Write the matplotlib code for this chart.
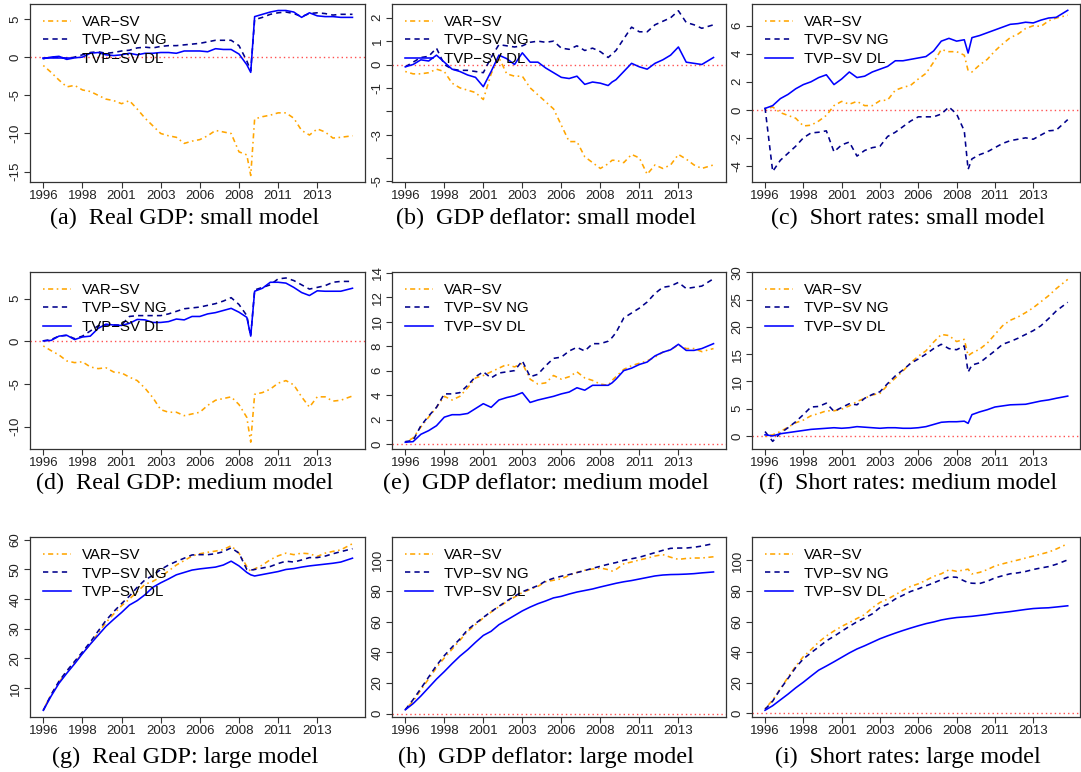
import matplotlib
matplotlib.use("Agg")
import matplotlib.pyplot as plt
import numpy as np

plt.rcParams['axes.unicode_minus'] = False

# ---------------- data ----------------
# quarter index since 1996Q1 (every 2 quarters, plus 2009Q2 and last quarter)
quarter_idx = list(range(0, 53, 2)) + [53] + list(range(54, 77, 2)) + [79]

year_tick_pos = [0, 10, 20, 30, 40, 50, 60, 70]
year_tick_labels = ["1996", "1998", "2001", "2003", "2006", "2008", "2011", "2013"]

series_labels = ["VAR\u2212SV", "TVP\u2212SV NG", "TVP\u2212SV DL"]

# (a) Real GDP: small model
var_sv_a = [-1.1, -2.0, -3.0, -3.9, -3.7, -4.3, -4.5, -5.0, -5.5, -5.7, -6.1, -5.7, -6.8, -8.0, -9.0,
            -10.0, -10.3, -10.5, -11.3, -11.0, -10.8, -10.3, -9.6, -9.8, -10.0, -12.4, -12.8, -15.5,
            -8.1, -7.8, -7.6, -7.3, -7.3, -8.0, -9.6, -10.2, -9.4, -9.8, -10.6, -10.5, -10.3]
tvp_ng_a = [-0.2, 0.0, 0.0, -0.2, 0.0, 0.3, 0.6, 0.7, 0.5, 0.6, 0.8, 0.9, 1.2, 1.3, 1.2, 1.4, 1.5, 1.5,
            1.6, 1.7, 1.8, 2.0, 2.2, 2.2, 2.2, 1.5, -0.5, -1.8,
            4.9, 5.2, 5.6, 5.8, 5.9, 5.7, 5.3, 5.7, 5.8, 5.7, 5.5, 5.6, 5.6]
tvp_dl_a = [-0.2, 0.0, 0.1, -0.3, -0.1, 0.0, 0.5, 0.6, 0.3, 0.2, 0.3, 0.5, 0.3, 0.5, 0.5, 0.6, 0.6, 0.5,
            0.8, 0.8, 0.8, 0.7, 1.1, 1.0, 1.0, 0.4, -1.0, -2.0,
            5.3, 5.6, 5.9, 6.1, 6.1, 5.9, 5.2, 5.8, 5.4, 5.3, 5.3, 5.2, 5.2]

# (b) GDP deflator: small model
var_sv_b = [-0.3, -0.4, -0.4, -0.35, -0.2, -0.3, -0.8, -1.0, -1.1, -1.2, -1.5, -0.4, 0.3, -0.4, -0.5,
            -0.5, -1.0, -1.3, -1.6, -1.9, -2.6, -3.3, -3.3, -3.95, -4.2, -4.45, -4.25, -4.1,
            -4.1, -4.2, -3.85, -4.0, -4.7, -4.3, -4.45, -4.3, -3.85, -4.05, -4.3, -4.45, -4.3]
tvp_ng_b = [-0.1, 0.1, 0.3, 0.35, 0.7, 0.0, -0.2, -0.25, -0.25, -0.3, -0.35, 0.3, 0.85, 0.8, 0.75, 0.8,
            0.95, 1.0, 0.95, 1.0, 0.7, 0.65, 0.8, 0.6, 0.7, 0.55, 0.3, 0.45,
            0.6, 1.1, 1.6, 1.4, 1.4, 1.7, 1.85, 2.0, 2.3, 1.8, 1.7, 1.55, 1.7]
tvp_dl_b = [-0.1, 0.0, 0.2, 0.15, 0.4, 0.1, -0.2, -0.3, -0.45, -0.55, -0.95, -0.3, 0.4, 0.25, 0.0, 0.5,
            0.1, 0.1, -0.15, -0.35, -0.55, -0.6, -0.5, -0.85, -0.75, -0.8, -0.9, -0.75,
            -0.65, -0.3, 0.05, -0.1, -0.2, 0.05, 0.2, 0.4, 0.75, 0.1, 0.05, 0.0, 0.3]

# (c) Short rates: small model
var_sv_c = [0.05, 0.2, -0.2, -0.4, -0.6, -1.15, -1.1, -0.8, -0.4, 0.3, 0.6, 0.4, 0.6, 0.3, 0.3, 0.65,
            0.7, 1.4, 1.6, 1.75, 2.2, 2.6, 3.4, 4.3, 4.15, 4.15, 3.9, 2.8,
            2.7, 3.2, 3.6, 4.2, 4.7, 5.15, 5.4, 5.8, 6.0, 5.95, 6.35, 6.55, 6.75]
tvp_ng_c = [0.15, -4.4, -3.6, -3.1, -2.6, -2.0, -1.65, -1.6, -1.5, -3.0, -2.5, -2.3, -3.3, -2.9, -2.7,
            -2.6, -1.9, -1.6, -1.2, -0.8, -0.5, -0.5, -0.5, -0.3, 0.2, -0.3, -1.5, -4.25,
            -3.5, -3.2, -3.0, -2.7, -2.4, -2.2, -2.1, -2.0, -2.1, -1.8, -1.5, -1.45, -0.7]
tvp_dl_c = [0.1, 0.3, 0.8, 1.1, 1.5, 1.8, 2.0, 2.3, 2.5, 1.8, 2.2, 2.7, 2.3, 2.4, 2.7, 2.9, 3.1, 3.5,
            3.5, 3.6, 3.7, 3.8, 4.2, 4.9, 5.1, 4.9, 5.0, 4.05,
            5.15, 5.3, 5.5, 5.7, 5.9, 6.1, 6.15, 6.25, 6.2, 6.4, 6.55, 6.6, 7.1]

# (d) Real GDP: medium model
var_sv_d = [-0.55, -1.1, -1.6, -2.3, -2.5, -2.4, -3.0, -3.2, -3.1, -3.6, -3.7, -4.2, -4.6, -5.5, -6.6,
            -8.0, -8.3, -8.3, -8.7, -8.5, -8.3, -7.5, -6.9, -6.7, -6.5, -7.4, -8.9, -11.8,
            -6.2, -6.0, -5.6, -4.9, -4.6, -5.1, -6.5, -7.7, -6.5, -6.5, -7.0, -6.9, -6.4]
tvp_ng_d = [0.05, 0.2, 0.6, 0.7, 0.3, 0.6, 1.2, 1.8, 1.9, 1.9, 1.9, 2.9, 3.0, 3.0, 3.0, 3.0, 3.2, 3.5,
            3.8, 3.9, 4.0, 4.2, 4.4, 4.7, 5.1, 4.3, 3.0, 0.6,
            6.0, 6.3, 6.6, 7.3, 7.4, 7.1, 6.6, 6.1, 6.3, 6.5, 6.9, 7.0, 7.0]
tvp_dl_d = [0.05, 0.1, 0.6, 0.7, 0.2, 0.5, 0.6, 1.5, 2.0, 1.9, 1.85, 2.1, 2.55, 2.5, 2.2, 2.2, 2.3, 2.6,
            2.5, 2.9, 2.9, 3.2, 3.35, 3.6, 3.85, 3.4, 2.8, 0.6,
            5.85, 6.2, 6.9, 6.9, 6.8, 6.3, 5.7, 5.35, 5.9, 5.85, 5.85, 5.85, 6.2]

# (e) GDP deflator: medium model
var_sv_e = [0.15, 0.5, 1.4, 2.2, 3.0, 3.9, 3.6, 3.9, 4.6, 5.4, 5.6, 5.9, 6.2, 6.5, 6.3, 6.6, 5.3, 4.9,
            5.0, 5.6, 5.3, 5.5, 5.9, 5.4, 5.2, 4.9, 4.8, 5.2,
            5.5, 6.1, 6.4, 6.6, 6.8, 7.1, 7.5, 7.7, 8.1, 7.8, 7.8, 7.55, 7.8]
tvp_ng_e = [0.2, 0.3, 1.5, 2.3, 3.0, 4.1, 4.1, 4.2, 4.8, 5.5, 5.9, 5.4, 5.8, 5.9, 6.0, 6.8, 5.5, 5.7,
            6.4, 7.0, 7.1, 7.6, 7.9, 7.6, 8.2, 8.2, 8.4, 8.7,
            9.1, 10.3, 10.7, 11.1, 11.6, 12.3, 12.8, 12.9, 13.2, 12.7, 12.8, 12.9, 13.5]
tvp_dl_e = [0.15, 0.2, 0.8, 1.1, 1.5, 2.2, 2.4, 2.4, 2.5, 2.9, 3.3, 3.0, 3.6, 3.8, 3.95, 4.2, 3.4, 3.6,
            3.75, 3.9, 4.1, 4.25, 4.6, 4.4, 4.8, 4.8, 4.8, 5.0,
            5.3, 6.0, 6.2, 6.5, 6.7, 7.2, 7.5, 7.7, 8.15, 7.65, 7.65, 7.8, 8.2]

# (f) Short rates: medium model
var_sv_f = [-0.1, 0.2, 0.8, 1.6, 2.4, 2.9, 3.7, 4.1, 4.6, 4.6, 4.9, 5.5, 6.3, 6.9, 7.5, 7.8, 9.3, 10.6,
            11.9, 13.4, 14.6, 15.6, 17.2, 18.6, 18.4, 17.3, 17.7, 14.7,
            15.2, 15.9, 17.0, 18.6, 20.2, 21.2, 21.8, 22.6, 23.5, 24.6, 25.7, 27.0, 28.7]
tvp_ng_f = [0.8, -1.0, 0.5, 1.5, 2.6, 3.9, 5.3, 5.4, 6.0, 4.5, 5.2, 5.9, 5.7, 6.9, 7.6, 8.1, 9.6, 11.0,
            12.1, 13.3, 14.1, 15.0, 16.0, 16.8, 16.0, 15.8, 16.5, 11.7,
            13.0, 13.4, 14.5, 15.6, 16.8, 17.3, 17.9, 18.6, 19.3, 20.2, 21.5, 22.9, 24.5]
tvp_dl_f = [0.2, 0.0, 0.4, 0.6, 0.8, 1.0, 1.2, 1.3, 1.4, 1.5, 1.4, 1.5, 1.7, 1.6, 1.5, 1.4, 1.5, 1.5,
            1.4, 1.4, 1.5, 1.7, 2.1, 2.5, 2.6, 2.6, 2.7, 2.3,
            3.9, 4.4, 4.8, 5.3, 5.5, 5.7, 5.75, 5.8, 6.1, 6.4, 6.6, 6.9, 7.3]

# (g) Real GDP: large model
var_sv_g = [2.7, 7.8, 12.0, 15.5, 18.5, 21.7, 24.8, 28.5, 32.1, 35.0, 37.8, 40.0, 42.5, 45.0, 46.0,
            47.5, 49.5, 51.5, 53.0, 54.5, 55.3, 55.8, 56.2, 56.7, 58.0, 55.5, 51.0, 49.3,
            50.2, 51.5, 53.3, 54.6, 55.5, 55.0, 55.5, 55.3, 54.4, 55.5, 56.1, 56.6, 58.7]
tvp_ng_g = [2.5, 7.8, 12.3, 15.8, 19.0, 22.2, 25.5, 29.2, 32.8, 35.8, 38.5, 41.0, 44.0, 46.5, 48.0,
            50.0, 51.5, 52.7, 53.8, 54.9, 55.0, 55.0, 55.3, 56.0, 57.3, 55.5, 50.0, 49.8,
            50.0, 50.5, 51.0, 52.0, 52.8, 52.5, 53.2, 54.0, 54.0, 54.5, 55.3, 56.0, 57.0]
tvp_dl_g = [2.5, 7.3, 11.6, 15.0, 18.2, 21.6, 24.8, 27.8, 30.8, 33.2, 35.5, 38.0, 39.5, 41.5, 44.0,
            45.5, 46.8, 48.2, 49.0, 49.8, 50.2, 50.5, 50.8, 51.5, 52.8, 51.2, 49.0, 48.2,
            47.8, 48.3, 48.8, 49.3, 50.0, 50.3, 50.8, 51.2, 51.5, 51.8, 52.1, 52.5, 53.8]

# (h) GDP deflator: large model
var_sv_h = [2.8, 8.0, 15.5, 22.7, 30.0, 36.3, 42.0, 47.8, 53.7, 58.0, 62.4, 66.2, 69.7, 72.9, 76.0,
            79.0, 81.0, 83.0, 86.0, 87.0, 87.9, 90.2, 92.1, 93.5, 94.3, 95.0, 93.9, 93.0,
            94.0, 97.7, 98.9, 100.2, 101.4, 102.8, 103.7, 102.0, 100.6, 101.2, 101.5, 101.5, 102.3]
tvp_ng_h = [2.5, 9.1, 16.4, 23.9, 31.4, 37.8, 43.4, 48.7, 54.8, 58.8, 62.8, 66.5, 70.0, 73.5, 76.5,
            79.5, 81.5, 83.5, 86.5, 88.3, 89.6, 90.7, 92.0, 93.3, 94.8, 96.1, 97.4, 98.0,
            98.5, 100.0, 101.0, 102.0, 103.5, 105.0, 106.5, 107.8, 108.0, 108.0, 108.5, 109.3, 110.9]
tvp_dl_h = [2.5, 6.5, 11.5, 17.0, 22.5, 27.4, 32.6, 37.5, 41.7, 46.5, 51.0, 53.7, 58.0, 61.0, 64.0,
            67.0, 69.5, 71.7, 73.5, 75.5, 76.5, 78.0, 79.3, 80.3, 81.3, 82.6, 83.8, 84.4,
            85.0, 86.0, 86.8, 87.8, 88.8, 89.8, 90.4, 90.7, 90.8, 91.0, 91.3, 91.8, 92.4]

# (i) Short rates: large model
var_sv_i = [2.8, 8.5, 15.8, 23.5, 30.7, 37.0, 41.5, 46.5, 50.5, 53.8, 56.8, 59.3, 62.0, 64.5, 69.0,
            72.5, 74.7, 77.5, 80.5, 83.0, 84.7, 87.0, 89.6, 91.3, 93.9, 92.9, 93.8, 94.3,
            91.2, 92.2, 94.0, 96.4, 97.8, 99.1, 100.3, 101.6, 102.9, 104.2, 105.5, 107.5, 111.0]
tvp_ng_i = [2.4, 7.8, 15.7, 22.7, 29.8, 35.5, 39.5, 43.3, 47.3, 50.3, 53.6, 56.8, 59.8, 62.3, 65.0,
            69.2, 71.3, 74.8, 77.2, 79.7, 81.4, 83.4, 85.3, 87.4, 89.3, 89.0, 86.6, 85.5,
            85.1, 84.9, 86.4, 88.6, 90.0, 91.3, 91.9, 92.8, 94.1, 95.1, 96.0, 97.5, 100.4]
tvp_dl_i = [1.8, 4.8, 8.6, 12.4, 16.5, 20.2, 24.2, 28.1, 30.8, 33.6, 36.5, 39.4, 42.0, 44.1, 46.4,
            48.7, 50.6, 52.4, 54.1, 55.7, 57.2, 58.6, 59.7, 61.0, 61.9, 62.6, 63.0, 63.2,
            63.4, 64.0, 64.6, 65.4, 65.9, 66.5, 67.2, 67.9, 68.5, 68.8, 69.0, 69.5, 70.3]

captions = ["(a)  Real GDP: small model", "(b)  GDP deflator: small model", "(c)  Short rates: small model",
            "(d)  Real GDP: medium model", "(e)  GDP deflator: medium model", "(f)  Short rates: medium model",
            "(g)  Real GDP: large model", "(h)  GDP deflator: large model", "(i)  Short rates: large model"]

yticks_list = [[-15, -10, -5, 0, 5], list(range(-5, 3)), [-4, -2, 0, 2, 4, 6],
               [-10, -5, 0, 5], list(range(0, 15, 2)), list(range(0, 31, 5)),
               list(range(10, 61, 10)), list(range(0, 101, 20)), list(range(0, 101, 20))]
ytick_hidden = [[], [-2, -4], [], [], [], [], [], [], []]

ylims = [(-16.35, 6.95), (-5.03, 2.59), (-5.15, 7.55),
         (-12.6, 8.1), (-0.4, 14.05), (-2.4, 30.05),
         (0.25, 60.95), (-2.2, 115.2), (-2.6, 115.4)]

panels = [(var_sv_a, tvp_ng_a, tvp_dl_a), (var_sv_b, tvp_ng_b, tvp_dl_b), (var_sv_c, tvp_ng_c, tvp_dl_c),
          (var_sv_d, tvp_ng_d, tvp_dl_d), (var_sv_e, tvp_ng_e, tvp_dl_e), (var_sv_f, tvp_ng_f, tvp_dl_f),
          (var_sv_g, tvp_ng_g, tvp_dl_g), (var_sv_h, tvp_ng_h, tvp_dl_h), (var_sv_i, tvp_ng_i, tvp_dl_i)]

# ---------------- layout / style ----------------
W, H = 1081, 772
fig = plt.figure(figsize=(W / 100, H / 100), dpi=100)
fig.patch.set_facecolor("white")

cols = [(30, 365), (392, 726), (752, 1080)]
rows = [(4, 182), (272, 449), (537, 717)]
cap_x = [185, 546, 908]
cap_y = [218, 483, 757]

SANS = "Liberation Sans"
SERIF = "Liberation Serif"
col_var = "#FFA500"
col_ng = "#00008B"
col_dl = "#0000FF"

for k in range(9):
    r, c = divmod(k, 3)
    l, rr = cols[c]
    t, b = rows[r]
    ax = fig.add_axes([l / W, 1 - b / H, (rr - l) / W, (b - t) / H])
    v, ng, dl = panels[k]
    x = np.array(quarter_idx)

    ax.axhline(0, color="#ff5050", lw=1.0, dashes=(1, 2.2), zorder=1)
    l1, = ax.plot(x, v, color=col_var, lw=1.15, dashes=(1.0, 2.2, 3.2, 2.2), zorder=2)
    l2, = ax.plot(x, ng, color=col_ng, lw=1.15, dashes=(3.3, 2.6), zorder=3)
    l3, = ax.plot(x, dl, color=col_dl, lw=1.15, zorder=4)

    ax.set_xlim(-3.4, 82.2)
    ax.set_ylim(*ylims[k])
    ax.set_xticks(year_tick_pos)
    ax.set_xticklabels(year_tick_labels, fontfamily=SANS, fontsize=9.5, color="#222222")
    yt = yticks_list[k]
    ax.set_yticks(yt)
    ax.set_yticklabels(["" if y in ytick_hidden[k] else str(y) for y in yt],
                       fontfamily=SANS, fontsize=9.5, color="#222222", rotation=90, va="center")
    ax.tick_params(axis="both", direction="out", length=4.3, width=0.8, color="#333333")
    ax.tick_params(axis="x", pad=1.2)
    ax.tick_params(axis="y", pad=1.8)
    for s in ax.spines.values():
        s.set_color("#333333")
        s.set_linewidth(0.9)

    axw = rr - l
    axh = b - t
    leg = ax.legend([l1, l2, l3], series_labels, loc="upper left",
                    bbox_to_anchor=(13 / axw, 1 - 11 / axh), borderaxespad=0, borderpad=0,
                    frameon=False, handlelength=1.85, handletextpad=0.75, labelspacing=0.3,
                    prop={"family": SANS, "size": 10.8})
    leg.set_zorder(10)

    fig.text(cap_x[c] / W, 1 - cap_y[r] / H, captions[k], ha="center", va="center",
             fontfamily=SERIF, fontsize=17.4, color="black")

fig.savefig("out.png", dpi=100, facecolor="white")
